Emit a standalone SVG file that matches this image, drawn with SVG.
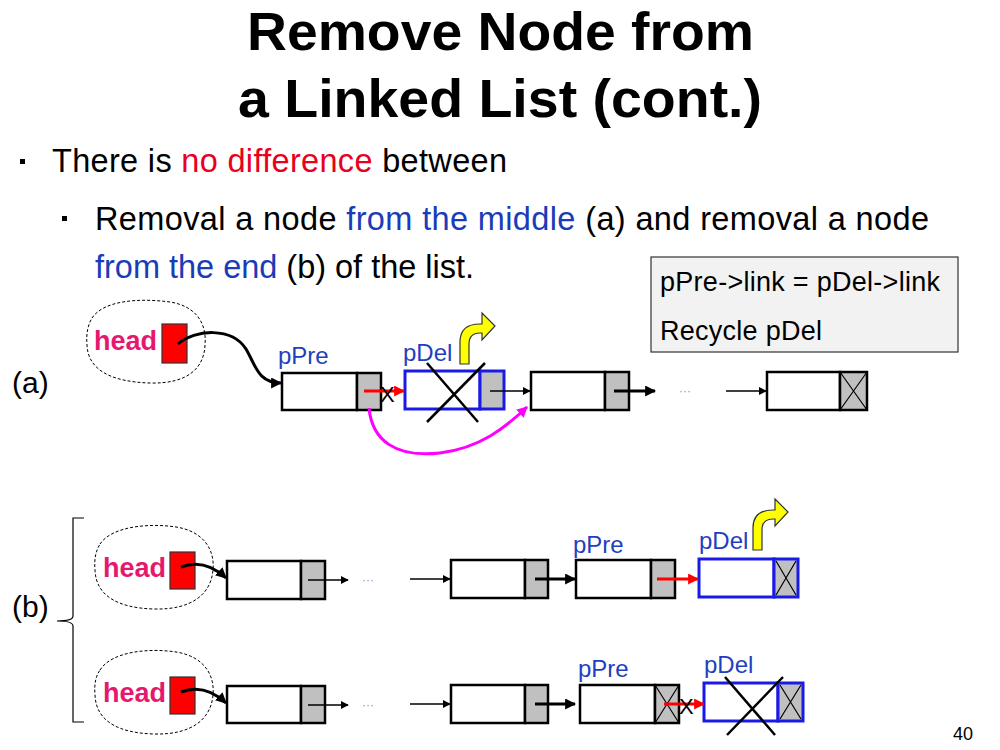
<svg xmlns="http://www.w3.org/2000/svg" width="1000" height="750" viewBox="0 0 1000 750">
  <style>
    .title { font-family: "Liberation Sans", Arial, sans-serif; font-weight: bold; font-size: 53px; fill: #000; }
    .body { font-family: "Liberation Sans", Arial, sans-serif; font-size: 32.5px; fill: #000; }
    .red { fill: #e8001c; }
    .blue { fill: #1a3cb8; }
    .note { font-family: "Liberation Sans", Arial, sans-serif; font-size: 27px; fill: #000; }
    .lbl { font-family: "Liberation Sans", Arial, sans-serif; font-size: 24px; fill: #1f3fbf; }
    .head { font-family: "Liberation Sans", Arial, sans-serif; font-size: 27px; font-weight: bold; fill: #e6186e; }
    .tag { font-family: "Liberation Sans", Arial, sans-serif; font-size: 30px; fill: #000; }
    .dots { font-family: "Liberation Sans", Arial, sans-serif; font-size: 12px; fill: #999; }
    .xmark { font-family: "Liberation Sans", Arial, sans-serif; font-size: 22px; fill: #000; }
    .pg { font-family: "Liberation Sans", Arial, sans-serif; font-size: 18px; fill: #000; }
    .data { fill: #fff; stroke: #000; stroke-width: 2.5; }
    .ptr { fill: #c0c0c0; stroke: #000; stroke-width: 2.5; }
    .ddata { fill: #fff; stroke: #1a1ae6; stroke-width: 3; }
    .dptr { fill: #c0c0c0; stroke: #1a1ae6; stroke-width: 3; }
    .nul { stroke: #000; stroke-width: 1.2; fill: none; }
    .cross { stroke: #000; stroke-width: 2.5; fill: none; }
    .blob { fill: none; stroke: #000; stroke-width: 1; stroke-dasharray: 3 2; }
    .hbox { fill: #f00; stroke: #333; stroke-width: 1.2; }
    .thin { stroke: #000; stroke-width: 1.5; fill: none; marker-end: url(#ah-thin); }
    .thick { stroke: #000; stroke-width: 3; fill: none; marker-end: url(#ah-thick); }
    .redarr { stroke: #f00; stroke-width: 3; fill: none; marker-end: url(#ah-red); }
    .magarr { stroke: #ff00ff; stroke-width: 3; fill: none; marker-end: url(#ah-mag); }
    .recycle { fill: #ffff00; stroke: #333; stroke-width: 1.2; }
  </style>
  <defs>
    <marker id="ah-thin" viewBox="0 0 10 10" refX="9" refY="5" markerWidth="8" markerHeight="8" markerUnits="userSpaceOnUse" orient="auto">
      <path d="M0,0 L10,5 L0,10 Z" fill="#000"/>
    </marker>
    <marker id="ah-thick" viewBox="0 0 10 10" refX="9" refY="5" markerWidth="11" markerHeight="11" markerUnits="userSpaceOnUse" orient="auto">
      <path d="M0,0 L10,5 L0,10 Z" fill="#000"/>
    </marker>
    <marker id="ah-red" viewBox="0 0 10 10" refX="9" refY="5" markerWidth="11" markerHeight="11" markerUnits="userSpaceOnUse" orient="auto">
      <path d="M0,0 L10,5 L0,10 Z" fill="#f00"/>
    </marker>
    <marker id="ah-mag" viewBox="0 0 10 10" refX="9" refY="5" markerWidth="11" markerHeight="11" markerUnits="userSpaceOnUse" orient="auto">
      <path d="M0,0 L10,5 L0,10 Z" fill="#ff00ff"/>
    </marker>
    <!-- bent "recycle" arrow, origin at bottom-left of its stem -->
    <path id="recycle-arrow" d="M0,0 L0,-22 Q0,-40 20,-40 L22,-40 L22,-51 L35,-38 L22,-24 L22,-31 L20,-31 Q9,-31 9,-20 L9,0 Z"/>
  </defs>

  <rect width="1000" height="750" fill="#fff"/>

  <!-- title -->
  <text class="title" x="247" y="50" textLength="507" lengthAdjust="spacingAndGlyphs">Remove Node from</text>
  <text class="title" x="238" y="117" textLength="524" lengthAdjust="spacingAndGlyphs">a Linked List (cont.)</text>

  <!-- bullets -->
  <rect x="20" y="159" width="5" height="5" fill="#000"/>
  <text class="body" x="52" y="172" textLength="455">There is <tspan class="red">no difference</tspan> between</text>
  <rect x="62" y="216" width="5" height="5" fill="#000"/>
  <text class="body" x="95" y="230" textLength="834">Removal a node <tspan class="blue">from the middle</tspan> (a) and removal a node</text>
  <text class="body" x="95" y="278" textLength="379"><tspan class="blue">from the end</tspan> (b) of the list.</text>

  <!-- code note -->
  <g id="note">
    <rect x="651" y="257" width="307" height="95" fill="#f2f2f2" stroke="#333" stroke-width="1.2"/>
    <text class="note" x="660" y="291" textLength="280">pPre-&gt;link = pDel-&gt;link</text>
    <text class="note" x="660" y="340" textLength="162">Recycle pDel</text>
  </g>

  <!-- case labels and brace -->
  <text class="tag" x="12" y="393">(a)</text>
  <text class="tag" x="12" y="617">(b)</text>
  <path d="M84,518 L73,518 L73,616 Q73,621 57,621 Q73,621 73,626 L73,722 L84,722" fill="none" stroke="#000" stroke-width="1.2"/>

  <!-- ===== case (a) ===== -->
  <g id="a-head">
    <path class="blob" d="M92,318 C104,300 140,298 170,302 C195,306 207,322 205,345 C204,368 188,384 150,383 C115,382 88,372 87,345 C86,333 88,325 92,318 Z"/>
    <text class="head" x="94" y="350">head</text>
    <rect class="hbox" x="162" y="324" width="25" height="39"/>
  </g>
  <g id="a-pre">
    <text class="lbl" x="278" y="364">pPre</text>
    <rect class="data" x="282" y="373" width="75" height="37"/>
    <rect class="ptr" x="357" y="373" width="24" height="37"/>
  </g>
  <g id="a-del">
    <text class="lbl" x="403" y="361">pDel</text>
    <use href="#recycle-arrow" class="recycle" x="460" y="364"/>
    <rect class="ddata" x="405" y="371" width="75" height="38"/>
    <rect class="dptr" x="480" y="371" width="24" height="38"/>
    <line class="cross" x1="427" y1="363" x2="478" y2="422"/>
    <line class="cross" x1="485" y1="363" x2="427" y2="422"/>
  </g>
  <g id="a-next">
    <rect class="data" x="531" y="372" width="74" height="38"/>
    <rect class="ptr" x="605" y="372" width="24" height="38"/>
  </g>
  <text class="dots" x="679" y="395">···</text>
  <g id="a-last">
    <rect class="data" x="767" y="372" width="73" height="38"/>
    <rect class="ptr" x="840" y="372" width="27" height="38"/>
    <path class="nul" d="M840,372 L867,410 M867,372 L840,410"/>
  </g>

  <g id="a-links">
    <path class="thick" d="M178,344 C195,329 232,327 246,349 C256,366 258,383 281,383"/>
    <path class="redarr" d="M364,391 L404,391"/>
    <path class="thin" d="M490,391 L530,391"/>
    <path class="magarr" d="M369,408 C372,440 395,458 440,453 C480,448 505,428 527,407"/>
    <path class="thick" d="M614,391 L655,391"/>
    <path class="thin" d="M726,391 L766,391"/>
  </g>
  <text class="xmark" x="380" y="402">X</text>

  <!-- ===== case (b), before ===== -->
  <g id="b1-head">
    <path class="blob" d="M100,544 C112,526 150,523 176,527 C202,531 215,548 213,570 C211,594 192,610 154,609 C118,608 96,596 95,570 C94,558 96,551 100,544 Z"/>
    <text class="head" x="103" y="577">head</text>
    <rect class="hbox" x="170" y="552" width="25" height="37"/>
  </g>
  <g id="b1-first">
    <rect class="data" x="227" y="561" width="74" height="38"/>
    <rect class="ptr" x="301" y="561" width="24" height="38"/>
  </g>
  <text class="dots" x="362" y="584">···</text>
  <g id="b1-mid">
    <rect class="data" x="451" y="560" width="74" height="38"/>
    <rect class="ptr" x="525" y="560" width="23" height="38"/>
  </g>
  <g id="b1-pre">
    <text class="lbl" x="573" y="553">pPre</text>
    <rect class="data" x="576" y="560" width="75" height="38"/>
    <rect class="ptr" x="651" y="560" width="24" height="38"/>
  </g>
  <g id="b1-del">
    <text class="lbl" x="699" y="549">pDel</text>
    <use href="#recycle-arrow" class="recycle" x="753" y="550"/>
    <rect class="ddata" x="699" y="559" width="75" height="38"/>
    <rect class="dptr" x="774" y="559" width="24" height="38"/>
    <path class="nul" d="M776,561 L796,595 M796,561 L776,595"/>
  </g>
  <g id="b1-links">
    <path class="thick" d="M181,567 C197,561 212,565 226,578"/>
    <path class="thin" d="M308,580 L348,580"/>
    <path class="thin" d="M410,579 L450,579"/>
    <path class="thick" d="M535,579 L575,579"/>
    <path class="redarr" d="M657,579 L698,579"/>
  </g>

  <!-- ===== case (b), after ===== -->
  <g id="b2-head">
    <path class="blob" d="M100,670 C112,651 150,648 176,652 C202,656 215,673 213,695 C211,719 192,735 154,734 C118,733 96,721 95,695 C94,683 96,676 100,670 Z"/>
    <text class="head" x="103" y="702">head</text>
    <rect class="hbox" x="170" y="677" width="25" height="37"/>
  </g>
  <g id="b2-first">
    <rect class="data" x="227" y="686" width="74" height="37"/>
    <rect class="ptr" x="301" y="686" width="24" height="37"/>
  </g>
  <text class="dots" x="362" y="709">···</text>
  <g id="b2-mid">
    <rect class="data" x="451" y="685" width="74" height="38"/>
    <rect class="ptr" x="525" y="685" width="23" height="38"/>
  </g>
  <g id="b2-pre">
    <text class="lbl" x="578" y="677">pPre</text>
    <rect class="data" x="580" y="685" width="75" height="38"/>
    <rect class="ptr" x="655" y="685" width="24" height="38"/>
    <path class="nul" d="M655,685 L679,723 M679,685 L655,723"/>
  </g>
  <g id="b2-del">
    <text class="lbl" x="704" y="673">pDel</text>
    <rect class="ddata" x="704" y="683" width="74" height="38"/>
    <rect class="dptr" x="778" y="683" width="25" height="38"/>
    <path class="nul" d="M780,685 L801,719 M801,685 L780,719"/>
    <line class="cross" x1="725" y1="677" x2="775" y2="735"/>
    <line class="cross" x1="783" y1="677" x2="727" y2="735"/>
  </g>
  <g id="b2-links">
    <path class="thick" d="M181,692 C197,686 212,690 226,703"/>
    <path class="thin" d="M308,705 L348,705"/>
    <path class="thin" d="M410,704 L450,704"/>
    <path class="thick" d="M535,704 L575,704"/>
    <path class="redarr" d="M664,704 L704,704"/>
  </g>
  <text class="xmark" x="679" y="714">X</text>

  <!-- page number -->
  <text class="pg" x="973" y="740" text-anchor="end">40</text>
</svg>
